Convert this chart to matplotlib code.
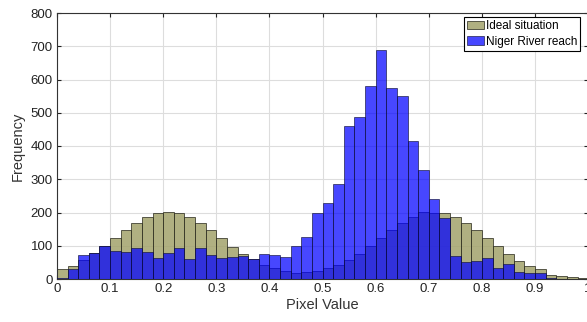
import numpy as np
import matplotlib
matplotlib.use("Agg")
import matplotlib.pyplot as plt

plt.rcParams['font.family'] = ['Liberation Sans', 'DejaVu Sans']

bin_edges = np.linspace(0, 1, 51)
ideal = [29, 39, 57, 79, 100, 122, 147, 167, 185, 197,
         202, 197, 185, 167, 147, 122, 97, 75, 59, 42,
         32, 25, 19, 22, 25, 32, 42, 57, 75, 99,
         124, 147, 169, 187, 201, 200, 199, 187, 167, 147,
         122, 99, 75, 55, 40, 29, 12, 10, 5, 2]
niger = [2, 29, 72, 79, 100, 85, 82, 92, 82, 64,
         77, 94, 59, 92, 71, 64, 67, 70, 59, 75,
         72, 67, 99, 127, 199, 230, 287, 459, 487, 579,
         689, 575, 550, 415, 329, 242, 182, 69, 51, 55,
         64, 32, 44, 22, 17, 17, 2, 1, 0, 0]
series_labels = ["Ideal situation", "Niger River reach"]
xticks = [0, 0.1, 0.2, 0.3, 0.4, 0.5, 0.6, 0.7, 0.8, 0.9, 1]
xticklabels = ["0", "0.1", "0.2", "0.3", "0.4", "0.5", "0.6", "0.7", "0.8", "0.9", "1"]
yticks = [0, 100, 200, 300, 400, 500, 600, 700, 800]

fig = plt.figure(figsize=(5.87, 3.22), dpi=100)
ax = fig.add_axes([57/587, 1-279/322, 1-57/587+0.002, (279-13)/322])

width = bin_edges[1] - bin_edges[0]
ax.bar(bin_edges[:-1], ideal, width=width, align='edge',
       color=(0.64, 0.64, 0.42), alpha=0.85, edgecolor=(0.15, 0.15, 0.1),
       linewidth=0.6, label=series_labels[0], zorder=2)
ax.bar(bin_edges[:-1], niger, width=width, align='edge',
       color=(0.0, 0.0, 1.0), alpha=0.72, edgecolor=(0.05, 0.05, 0.2),
       linewidth=0.6, label=series_labels[1], zorder=3)

ax.set_xlim(0, 1)
ax.set_ylim(0, 800)
ax.set_xticks(xticks)
ax.set_xticklabels(xticklabels)
ax.set_yticks(yticks)
ax.tick_params(direction='in', top=True, right=True, length=3, width=0.8,
               labelsize=9.5, colors='#222222', pad=3)
ax.grid(True, color='#dddddd', linewidth=0.8, zorder=0)
ax.set_axisbelow(True)
for s in ax.spines.values():
    s.set_color('#333333')
    s.set_linewidth(0.8)

ax.set_xlabel("Pixel Value", fontsize=10.5, color='#333333', labelpad=2)
ax.set_ylabel("Frequency", fontsize=10.5, color='#333333', labelpad=4)

leg = ax.legend(loc='upper right', fontsize=8.5, frameon=True, fancybox=False,
                edgecolor='black', framealpha=1, borderpad=0.25,
                handlelength=1.4, handleheight=0.7, handletextpad=0.2,
                labelspacing=0.3, borderaxespad=0.35,
                bbox_to_anchor=(0.993, 1.0))
leg.get_frame().set_linewidth(0.8)

fig.savefig("out.png", dpi=100)
